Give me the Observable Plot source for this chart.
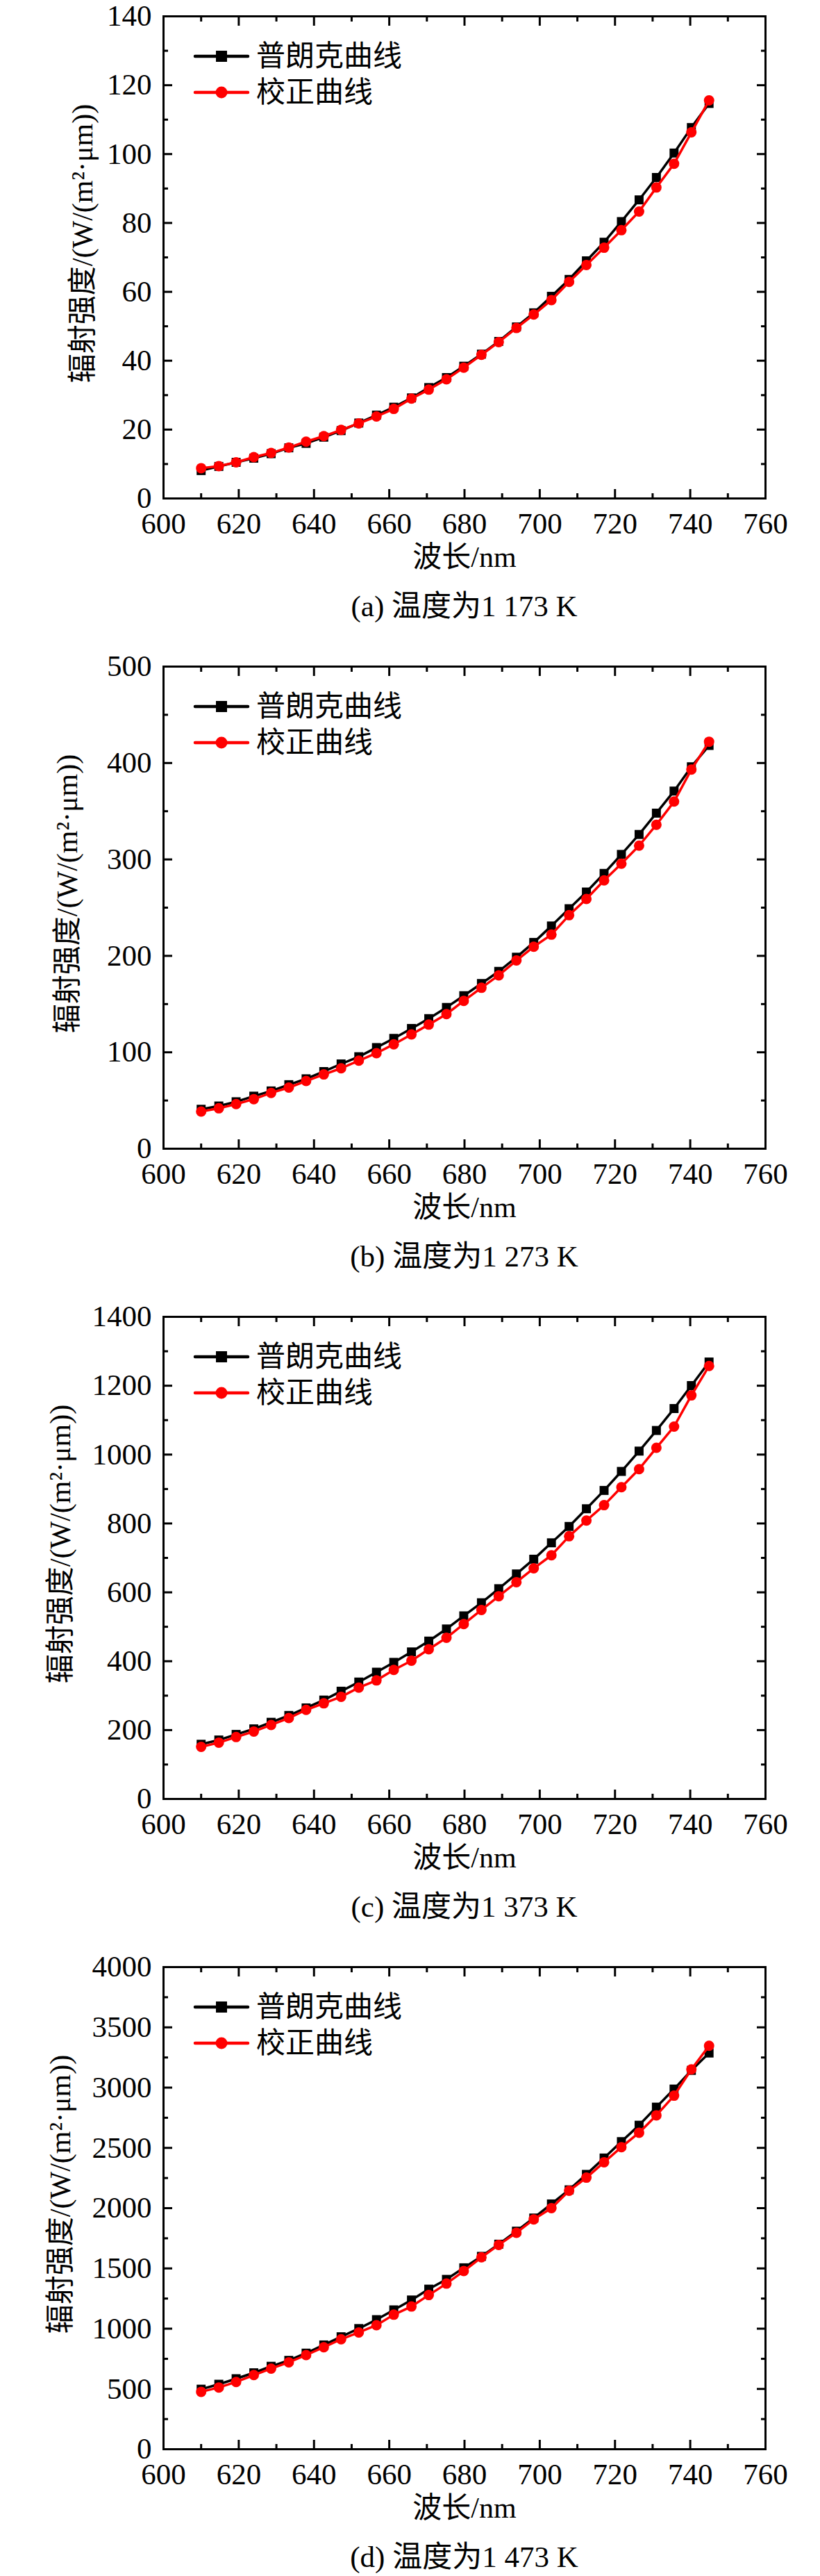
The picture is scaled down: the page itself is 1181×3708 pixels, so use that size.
<!DOCTYPE html>
<html>
<head>
<meta charset="utf-8">
<script src="https://cdn.jsdelivr.net/npm/d3@7"></script>
<script src="https://cdn.jsdelivr.net/npm/@observablehq/plot@0.6"></script>
<style>
  html, body { margin: 0; padding: 0; background: #fff; }
  body { width: 1181px; overflow: hidden; }
  .panel { position: relative; width: 1181px; height: 936px; }
  .panel svg { display: block; }
  .cap { position: absolute; left: 235px; width: 867px; top: 842px; height: 62px; line-height: 62px;
         text-align: center; font-size: 43px; color: #000;
         font-family: "Liberation Serif", "Times New Roman", "Noto Sans CJK SC", serif; white-space: nowrap; }
</style>
</head>
<body>
<div id="root"></div>
<script>
// ---------- data ----------
const wavelength = [610.0, 614.7, 619.3, 624.0, 628.6, 633.3, 637.9, 642.6, 647.2, 651.9,
  656.6, 661.2, 665.9, 670.5, 675.2, 679.8, 684.5, 689.1, 693.8, 698.4,
  703.1, 707.8, 712.4, 717.1, 721.7, 726.4, 731.0, 735.7, 740.3, 745.0];

const planck1173 = [8.1, 9.3, 10.5, 11.7, 13.0, 14.7, 16.0, 17.8, 19.7, 21.9, 24.2, 26.5, 29.2, 32.2, 35.1,
  38.4, 41.9, 45.6, 49.8, 53.9, 58.7, 63.6, 69.0, 74.4, 80.4, 86.7, 93.2, 100.3, 107.7, 114.7];
const corr1173 = [8.8, 9.4, 10.5, 12.0, 13.2, 14.8, 16.5, 18.1, 19.9, 21.8, 23.8, 26.0, 29.0, 31.6, 34.6,
  38.0, 41.7, 45.4, 49.5, 53.4, 57.6, 62.9, 67.8, 72.8, 77.9, 83.3, 90.3, 97.2, 106.3, 115.6];

const planck1273 = [40.9, 44.3, 48.7, 54.5, 59.9, 66.4, 72.5, 80.0, 87.9, 95.4, 104.9, 114.4, 124.7, 134.9, 146.5,
  158.7, 171.3, 183.9, 198.6, 213.9, 231.0, 248.9, 266.2, 285.5, 305.2, 325.9, 348.0, 370.9, 396.1, 418.2];
const corr1273 = [38.5, 41.9, 46.3, 51.4, 57.9, 63.4, 70.2, 77.0, 83.4, 91.3, 99.1, 108.3, 118.5, 128.7, 139.6,
  153.3, 166.9, 179.8, 195.2, 209.5, 222.0, 242.2, 259.0, 278.3, 295.6, 314.3, 336.0, 360.0, 393.2, 422.1];

const planck1373 = [158.8, 171.2, 187.4, 203.5, 222.6, 242.5, 264.4, 287.2, 312.9, 339.5, 368.1, 396.6, 427.0, 458.4, 493.6,
  531.7, 569.7, 610.6, 653.4, 696.2, 743.8, 791.3, 842.7, 895.9, 951.1, 1010.1, 1070.0, 1133.7, 1200.3, 1268.8];
const corr1373 = [151.2, 163.6, 179.8, 195.9, 214.9, 234.9, 258.7, 277.7, 296.7, 323.4, 344.3, 374.7, 401.4, 434.6, 467.9,
  507.9, 548.8, 588.7, 629.6, 669.6, 707.6, 762.8, 808.4, 853.1, 905.4, 957.8, 1019.6, 1081.4, 1171.8, 1257.4];

const planck1473 = [498, 539, 585, 634, 688, 737, 797, 865, 933, 1001, 1075, 1156, 1238, 1328, 1409,
  1505, 1600, 1701, 1809, 1918, 2035, 2152, 2280, 2416, 2552, 2688, 2838, 2988, 3143, 3287];
const corr1473 = [476, 512, 558, 615, 669, 721, 781, 846, 912, 969, 1029, 1116, 1184, 1279, 1374,
  1478, 1592, 1695, 1796, 1907, 2000, 2144, 2253, 2381, 2506, 2626, 2770, 2933, 3151, 3347];

const seriesNames = ["普朗克曲线", "校正曲线"];
const xTitle = "波长/nm";
const yTitle = "辐射强度/(W/(m²·μm))";
const captions = ["(a) 温度为1 173 K", "(b) 温度为1 273 K", "(c) 温度为1 373 K", "(d) 温度为1 473 K"];

const xDomain = [600, 760];
const xTicks = [600, 620, 640, 660, 680, 700, 720, 740, 760];
const xMinor = [610, 630, 650, 670, 690, 710, 730, 750];

const yDomainA = [0, 140], yTicksA = [0, 20, 40, 60, 80, 100, 120, 140], yMinorA = [10, 30, 50, 70, 90, 110, 130];
const yDomainB = [0, 500], yTicksB = [0, 100, 200, 300, 400, 500], yMinorB = [50, 150, 250, 350, 450];
const yDomainC = [0, 1400], yTicksC = [0, 200, 400, 600, 800, 1000, 1200, 1400], yMinorC = [100, 300, 500, 700, 900, 1100, 1300];
const yDomainD = [0, 4000], yTicksD = [0, 500, 1000, 1500, 2000, 2500, 3000, 3500, 4000], yMinorD = [250, 750, 1250, 1750, 2250, 2750, 3250, 3750];

// ---------- drawing ----------
const FONT = '"Liberation Serif", "Times New Roman", "Noto Sans CJK SC", serif';
const ML = 235, MR = 79, MT = 23, MB = 125, W = 1181, H = 842;

const panels = [
  {planck: planck1173, corr: corr1173, yDomain: yDomainA, yTicks: yTicksA, yMinor: yMinorA, caption: captions[0], titleX: 119},
  {planck: planck1273, corr: corr1273, yDomain: yDomainB, yTicks: yTicksB, yMinor: yMinorB, caption: captions[1], titleX: 97},
  {planck: planck1373, corr: corr1373, yDomain: yDomainC, yTicks: yTicksC, yMinor: yMinorC, caption: captions[2], titleX: 87},
  {planck: planck1473, corr: corr1473, yDomain: yDomainD, yTicks: yTicksD, yMinor: yMinorD, caption: captions[3], titleX: 87}
];

function makePanel(p) {
  const black = wavelength.map((x, i) => ({x, y: p.planck[i]}));
  const red = wavelength.map((x, i) => ({x, y: p.corr[i]}));
  const tickStyle = {strokeWidth: 3, tickFormat: () => "", label: null};
  const svg = Plot.plot({
    width: W, height: H,
    marginLeft: ML, marginRight: MR, marginTop: MT, marginBottom: MB,
    x: {domain: xDomain},
    y: {domain: p.yDomain},
    style: {fontFamily: FONT, fontSize: "42px", background: "#fff", color: "#000", overflow: "visible"},
    marks: [
      // inward ticks on all four sides
      Plot.axisX(xTicks, {anchor: "bottom", tickSize: -13, ...tickStyle}),
      Plot.axisX(xMinor, {anchor: "bottom", tickSize: -7, ...tickStyle}),
      Plot.axisX(xTicks, {anchor: "top", tickSize: -13, ...tickStyle}),
      Plot.axisX(xMinor, {anchor: "top", tickSize: -7, ...tickStyle}),
      Plot.axisY(p.yTicks, {anchor: "left", tickSize: -13, ...tickStyle}),
      Plot.axisY(p.yMinor, {anchor: "left", tickSize: -7, ...tickStyle}),
      Plot.axisY(p.yTicks, {anchor: "right", tickSize: -13, ...tickStyle}),
      Plot.axisY(p.yMinor, {anchor: "right", tickSize: -7, ...tickStyle}),
      // tick labels
      Plot.axisX(xTicks, {anchor: "bottom", tickSize: 0, tickPadding: 20, fontSize: 43, tickFormat: d => String(d), label: null}),
      Plot.axisY(p.yTicks, {anchor: "left", tickSize: 0, tickPadding: 17, fontSize: 43, tickFormat: d => String(d), label: null}),
      // axis titles
      Plot.text([xTitle], {text: d => d, frameAnchor: "bottom", dy: 98, fontSize: 42, fill: "#000", textAnchor: "middle"}),
      Plot.text([yTitle], {text: d => d, frameAnchor: "left", dx: -(ML - p.titleX), dy: -20, rotate: -90,
        fontSize: 42, fill: "#000", textAnchor: "middle", lineAnchor: "middle"}),
      // data
      Plot.line(black, {x: "x", y: "y", stroke: "#000", strokeWidth: 3.5}),
      Plot.dot(black, {x: "x", y: "y", symbol: "square", r: 7.3, fill: "#000", stroke: "none"}),
      Plot.line(red, {x: "x", y: "y", stroke: "#ff0000", strokeWidth: 3.5}),
      Plot.dot(red, {x: "x", y: "y", symbol: "circle", r: 7.5, fill: "#ff0000", stroke: "none"}),
      Plot.frame({stroke: "#000", strokeWidth: 3})
    ]
  });

  // legend (top-left inside the frame)
  const g = d3.select(svg).append("g").attr("class", "legend");
  const rows = [
    {label: seriesNames[0], color: "#000", shape: "square", dy: 58},
    {label: seriesNames[1], color: "#ff0000", shape: "circle", dy: 110}
  ];
  rows.forEach(r => {
    const y = MT + r.dy;
    g.append("line").attr("x1", ML + 46).attr("x2", ML + 122).attr("y1", y).attr("y2", y)
      .attr("stroke", r.color).attr("stroke-width", 4.5).attr("stroke-linecap", "round");
    if (r.shape === "square") {
      g.append("rect").attr("x", ML + 84 - 8).attr("y", y - 8).attr("width", 16).attr("height", 16).attr("fill", r.color);
    } else {
      g.append("circle").attr("cx", ML + 84).attr("cy", y).attr("r", 8.5).attr("fill", r.color);
    }
    g.append("text").attr("x", ML + 134).attr("y", y).attr("dominant-baseline", "central")
      .attr("text-anchor", "start")
      .attr("font-size", 42).attr("font-family", FONT).attr("fill", "#000").text(r.label);
  });
  return svg;
}

const root = document.getElementById("root");
panels.forEach((p, i) => {
  const div = document.createElement("div");
  div.className = "panel";
  if (i === panels.length - 1) div.style.height = "900px";
  div.appendChild(makePanel(p));
  const cap = document.createElement("div");
  cap.className = "cap";
  cap.textContent = p.caption;
  div.appendChild(cap);
  root.appendChild(div);
});
</script>
</body>
</html>
